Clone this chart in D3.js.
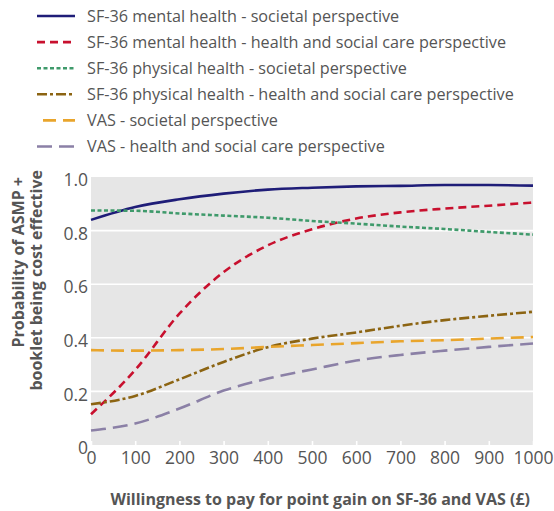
<!DOCTYPE html>
<html>
<head>
<meta charset="utf-8">
<script src="https://cdn.jsdelivr.net/npm/d3@7"></script>
<style>
	body { margin: 0; background: #fff; }
	svg { display: block; font-family: "Open Sans", sans-serif; }
</style>
</head>
<body>
<div id="chart"></div>
<script>
const wtp = [0, 100, 200, 300, 400, 500, 600, 700, 800, 900, 1000];

const mentalSocietal = [0.84, 0.888, 0.917, 0.938, 0.953, 0.96, 0.965, 0.967, 0.97, 0.97, 0.968];
const mentalCare = [0.115, 0.28, 0.49, 0.645, 0.745, 0.805, 0.845, 0.868, 0.882, 0.893, 0.905];
const physicalSocietal = [0.875, 0.874, 0.864, 0.856, 0.848, 0.836, 0.826, 0.815, 0.806, 0.795, 0.785];
const physicalCare = [0.152, 0.183, 0.245, 0.31, 0.365, 0.397, 0.42, 0.445, 0.466, 0.482, 0.497];
const vasSocietal = [0.354, 0.352, 0.354, 0.358, 0.366, 0.373, 0.38, 0.387, 0.391, 0.397, 0.403];
const vasCare = [0.054, 0.08, 0.136, 0.203, 0.248, 0.282, 0.315, 0.336, 0.352, 0.366, 0.379];

const seriesNames = [
	"SF-36 mental health - societal perspective",
	"SF-36 mental health - health and social care perspective",
	"SF-36 physical health - societal perspective",
	"SF-36 physical health - health and social care perspective",
	"VAS - societal perspective",
	"VAS - health and social care perspective"
];

const yTicks = [0, 0.2, 0.4, 0.6, 0.8, 1.0];
const xTicks = [0, 100, 200, 300, 400, 500, 600, 700, 800, 900, 1000];

const series = [
	{ name: seriesNames[0], values: mentalSocietal, color: "#1f1d78", dash: null, width: 2.6 },
	{ name: seriesNames[1], values: mentalCare, color: "#c8102e", dash: "8,5", width: 2.6 },
	{ name: seriesNames[2], values: physicalSocietal, color: "#3f9a6b", dash: "4,2.5", width: 2.6 },
	{ name: seriesNames[3], values: physicalCare, color: "#8c6412", dash: "10,3,3,3", width: 2.6 },
	{ name: seriesNames[4], values: vasSocietal, color: "#e9a52c", dash: "13,7", width: 2.6 },
	{ name: seriesNames[5], values: vasCare, color: "#8b80a6", dash: "15,7", width: 2.6 }
];

const width = 554;
const height = 511;
const margin = ({ top: 177, right: 21, bottom: 66, left: 91 });
const textColor = "#555";

const x = d3.scaleLinear()
	.domain([0, 1000])
	.range([margin.left, width - margin.right]);

const y = d3.scaleLinear()
	.domain([0, 1])
	.range([height - margin.bottom, margin.top]);

const svg = d3.select("#chart")
	.append("svg")
	.attr("width", width)
	.attr("height", height)
	.attr("viewBox", [0, 0, width, height]);

// plot background
svg.append("rect")
	.attr("x", x(0))
	.attr("y", y(1))
	.attr("width", x(1000) - x(0))
	.attr("height", y(0) - y(1))
	.attr("fill", "#e6e6e6");

// gridlines
svg.append("g")
	.selectAll("line")
	.data(yTicks.filter(d => d > 0 && d < 1))
	.join("line")
	.attr("x1", x(0))
	.attr("x2", x(1000))
	.attr("y1", d => y(d))
	.attr("y2", d => y(d))
	.attr("stroke", "#fff")
	.attr("stroke-width", 1.6);

// y axis labels
const yAxis = g => g
	.attr("transform", `translate(${margin.left},0)`)
	.call(d3.axisLeft(y).tickValues(yTicks).tickSize(0).tickPadding(3)
		.tickFormat(d => d === 0 ? "0" : d3.format(".1f")(d)))
	.call(g => g.select(".domain").remove())
	.call(g => g.selectAll("text")
		.attr("y", 3)
		.attr("fill", textColor)
		.attr("font-size", 17.5)
		.attr("font-family", "Open Sans, sans-serif"));

// x axis: white ticks inside the plot, labels below
const xAxis = g => g
	.attr("transform", `translate(0,${height - margin.bottom})`)
	.call(d3.axisBottom(x).tickValues(xTicks).tickSize(0).tickPadding(7)
		.tickFormat(d3.format("d")))
	.call(g => g.select(".domain").remove())
	.call(g => g.selectAll(".tick line")
		.attr("y2", -4)
		.attr("stroke", "#fff")
		.attr("stroke-width", 1.6))
	.call(g => g.selectAll("text")
		.attr("fill", textColor)
		.attr("font-size", 17.5)
		.attr("font-family", "Open Sans, sans-serif"));

svg.append("g").call(yAxis);
svg.append("g").call(xAxis);

// lines
const line = d3.line()
	.x((d, i) => x(wtp[i]))
	.y(d => y(d))
	.curve(d3.curveMonotoneX);

svg.append("g")
	.attr("fill", "none")
	.selectAll("path")
	.data(series)
	.join("path")
	.attr("stroke", d => d.color)
	.attr("stroke-width", d => d.width)
	.attr("stroke-dasharray", d => d.dash)
	.attr("d", d => line(d.values));

// legend
const legend = svg.append("g")
	.selectAll("g")
	.data(series)
	.join("g")
	.attr("transform", (d, i) => `translate(0,${16 + i * 26.1})`);

legend.append("line")
	.attr("x1", (d, i) => i === 4 ? 43 : 37)
	.attr("x2", 75)
	.attr("stroke", d => d.color)
	.attr("stroke-width", d => d.width)
	.attr("stroke-dasharray", d => d.dash);

legend.append("text")
	.attr("x", 87)
	.attr("dy", "0.35em")
	.attr("fill", textColor)
	.attr("font-size", 16.2)
	.text(d => d.name);

// axis titles
const yTitle = svg.append("text")
	.attr("fill", textColor)
	.attr("font-weight", "bold")
	.attr("font-size", 16)
	.attr("text-anchor", "end")
	.attr("transform", "rotate(-90)");

yTitle.append("tspan")
	.attr("x", -177)
	.attr("y", 24)
	.text("Probability of ASMP +");

yTitle.append("tspan")
	.attr("x", -170)
	.attr("y", 42)
	.text("booklet being cost effective");

svg.append("text")
	.attr("x", 530)
	.attr("y", 505)
	.attr("fill", textColor)
	.attr("font-weight", "bold")
	.attr("font-size", 16)
	.attr("text-anchor", "end")
	.text("Willingness to pay for point gain on SF-36 and VAS (£)");
</script>
</body>
</html>
